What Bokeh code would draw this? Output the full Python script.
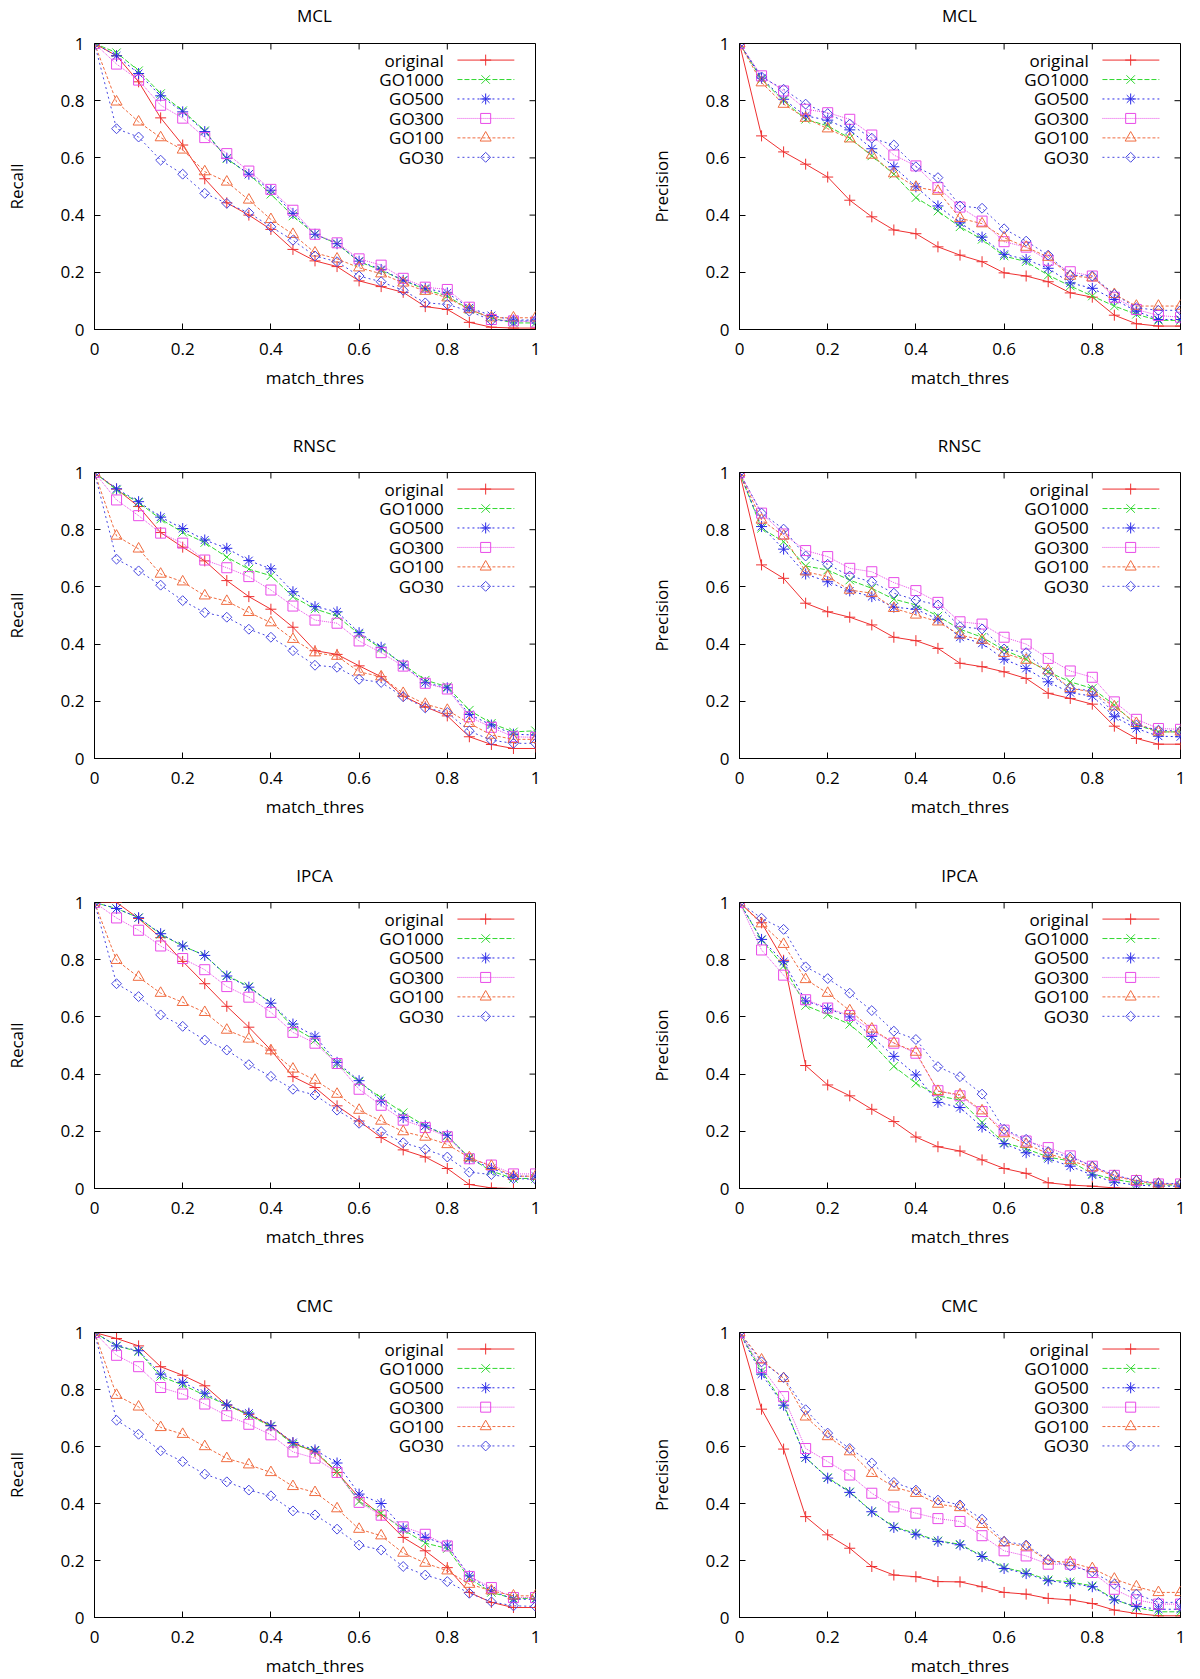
from bokeh.plotting import figure
from bokeh.layouts import column, row
from bokeh.models import Range1d, FixedTicker, CustomJSTickFormatter, Div
from bokeh.core.properties import value
from bokeh.embed import file_html
from bokeh.resources import INLINE

# ---------------- data ----------------
match_thres = [0.0, 0.05, 0.10, 0.15, 0.20, 0.25, 0.30, 0.35, 0.40, 0.45, 0.50,
               0.55, 0.60, 0.65, 0.70, 0.75, 0.80, 0.85, 0.90, 0.95, 1.0]
series_names = ["original", "GO1000", "GO500", "GO300", "GO100", "GO30"]
axis_ticks = [0, 0.2, 0.4, 0.6, 0.8, 1]

mcl_recall = {
    "original": [1, .957, .866, .74, .645, .527, .443, .40, .35, .28, .24, .22, .17, .15, .13, .08, .07, .025, .008, .005, .005],
    "GO1000": [1, .968, .905, .825, .765, .695, .597, .543, .473, .397, .333, .30, .237, .207, .172, .14, .117, .07, .04, .023, .023],
    "GO500": [1, .957, .895, .817, .761, .692, .599, .543, .487, .406, .333, .30, .239, .21, .172, .144, .128, .076, .049, .033, .033],
    "GO300": [1, .928, .872, .784, .739, .671, .615, .554, .49, .417, .333, .303, .247, .225, .179, .148, .14, .078, .035, .03, .026],
    "GO100": [1, .796, .726, .671, .628, .552, .516, .453, .385, .333, .268, .247, .216, .195, .163, .134, .111, .07, .041, .041, .041],
    "GO30": [1, .702, .673, .592, .543, .476, .441, .408, .359, .312, .257, .237, .187, .167, .137, .093, .088, .064, .032, .03, .03],
}
mcl_precision = {
    "original": [1, .677, .621, .578, .533, .452, .394, .348, .335, .289, .26, .237, .198, .187, .167, .128, .113, .05, .02, .012, .012],
    "GO1000": [1, .875, .80, .735, .712, .669, .607, .543, .461, .414, .359, .315, .257, .237, .19, .152, .117, .082, .053, .032, .032],
    "GO500": [1, .879, .805, .747, .732, .698, .632, .569, .499, .432, .373, .323, .263, .245, .214, .163, .144, .105, .064, .035, .035],
    "GO300": [1, .887, .834, .77, .758, .735, .68, .61, .572, .496, .428, .379, .307, .288, .242, .202, .187, .113, .07, .049, .043],
    "GO100": [1, .863, .788, .739, .702, .667, .61, .545, .498, .484, .389, .37, .321, .288, .253, .187, .181, .123, .082, .082, .082],
    "GO30": [1, .883, .84, .788, .755, .718, .669, .645, .569, .531, .432, .424, .352, .309, .26, .19, .187, .123, .076, .067, .067],
}
rnsc_recall = {
    "original": [1, .942, .881, .79, .739, .691, .622, .566, .522, .459, .377, .364, .324, .286, .218, .181, .149, .076, .049, .035, .035],
    "GO1000": [1, .939, .895, .837, .791, .755, .704, .662, .639, .566, .523, .498, .435, .385, .329, .274, .251, .169, .123, .093, .097],
    "GO500": [1, .943, .898, .844, .804, .764, .735, .692, .663, .583, .531, .513, .44, .389, .327, .265, .247, .154, .117, .085, .082],
    "GO300": [1, .904, .849, .788, .753, .694, .667, .636, .589, .533, .484, .473, .411, .37, .323, .263, .243, .146, .109, .076, .074],
    "GO100": [1, .778, .733, .645, .618, .569, .55, .511, .475, .417, .37, .358, .303, .286, .228, .19, .169, .123, .082, .067, .067],
    "GO30": [1, .697, .656, .606, .552, .51, .494, .452, .424, .377, .326, .319, .277, .266, .216, .177, .161, .096, .064, .053, .053],
}
rnsc_precision = {
    "original": [1, .677, .63, .543, .513, .494, .467, .424, .412, .385, .333, .321, .303, .28, .228, .21, .19, .113, .07, .05, .05],
    "GO1000": [1, .805, .758, .673, .659, .624, .595, .557, .537, .498, .452, .424, .379, .347, .303, .268, .245, .187, .117, .093, .093],
    "GO500": [1, .811, .732, .645, .618, .586, .566, .529, .522, .487, .424, .403, .347, .315, .268, .23, .218, .146, .105, .078, .076],
    "GO300": [1, .858, .785, .727, .706, .665, .653, .615, .587, .546, .478, .47, .424, .40, .35, .306, .284, .198, .137, .105, .102],
    "GO100": [1, .834, .778, .653, .636, .589, .578, .525, .502, .478, .432, .414, .368, .344, .307, .245, .233, .181, .123, .093, .093],
    "GO30": [1, .858, .802, .708, .679, .638, .618, .578, .554, .537, .461, .453, .383, .37, .30, .245, .237, .158, .117, .099, .096],
}
ipca_recall = {
    "original": [1, 1.0, .944, .877, .794, .716, .637, .564, .484, .391, .353, .289, .236, .178, .135, .11, .07, .014, .002, 0, 0],
    "GO1000": [1, .979, .947, .889, .848, .815, .745, .706, .648, .564, .519, .435, .373, .316, .265, .219, .184, .108, .061, .035, .035],
    "GO500": [1, .979, .947, .891, .848, .815, .743, .704, .648, .575, .532, .441, .377, .306, .248, .219, .186, .104, .07, .043, .043],
    "GO300": [1, .946, .903, .848, .804, .765, .706, .669, .616, .546, .508, .437, .347, .291, .239, .213, .181, .104, .082, .051, .051],
    "GO100": [1, .798, .739, .683, .651, .616, .554, .523, .482, .418, .379, .33, .274, .236, .199, .18, .154, .108, .078, .043, .043],
    "GO30": [1, .716, .671, .607, .567, .519, .484, .433, .392, .347, .327, .274, .228, .199, .16, .137, .11, .057, .049, .035, .032],
}
ipca_precision = {
    "original": [1, .929, .798, .43, .362, .324, .277, .234, .18, .146, .131, .10, .07, .053, .02, .012, .008, .002, 0, 0, 0],
    "GO1000": [1, .869, .778, .64, .608, .574, .508, .427, .368, .324, .309, .231, .16, .139, .11, .096, .051, .032, .019, .012, .012],
    "GO500": [1, .871, .793, .656, .629, .60, .532, .462, .397, .301, .283, .215, .157, .125, .104, .078, .047, .022, .012, .008, .008],
    "GO300": [1, .834, .746, .66, .631, .605, .553, .508, .473, .342, .324, .269, .204, .166, .143, .114, .078, .046, .028, .016, .016],
    "GO100": [1, .926, .854, .731, .683, .622, .558, .509, .477, .34, .328, .272, .192, .155, .122, .098, .073, .043, .026, .016, .014],
    "GO30": [1, .945, .906, .775, .734, .683, .622, .55, .521, .426, .391, .33, .207, .172, .129, .11, .078, .047, .028, .019, .016],
}
cmc_recall = {
    "original": [1, .979, .953, .88, .85, .813, .745, .713, .673, .612, .581, .509, .421, .359, .281, .234, .175, .088, .053, .035, .035],
    "GO1000": [1, .953, .933, .846, .816, .78, .746, .71, .67, .608, .585, .511, .407, .366, .308, .261, .242, .137, .088, .067, .067],
    "GO500": [1, .953, .936, .854, .825, .787, .746, .717, .673, .614, .588, .542, .433, .40, .313, .281, .254, .146, .094, .064, .064],
    "GO300": [1, .92, .88, .807, .784, .749, .708, .678, .641, .581, .559, .509, .404, .359, .318, .292, .251, .144, .105, .07, .07],
    "GO100": [1, .78, .739, .667, .643, .60, .558, .536, .509, .46, .439, .382, .31, .287, .226, .191, .164, .117, .094, .076, .076],
    "GO30": [1, .692, .643, .585, .547, .503, .476, .447, .427, .374, .36, .31, .254, .237, .179, .149, .126, .085, .055, .041, .039],
}
cmc_precision = {
    "original": [1, .731, .591, .354, .29, .243, .179, .149, .143, .126, .125, .108, .088, .082, .067, .062, .049, .026, .014, .006, .006],
    "GO1000": [1, .865, .749, .561, .491, .441, .372, .318, .295, .269, .257, .216, .175, .158, .132, .125, .111, .064, .035, .02, .02],
    "GO500": [1, .854, .745, .561, .489, .439, .371, .316, .292, .267, .255, .214, .172, .154, .129, .12, .108, .062, .039, .029, .029],
    "GO300": [1, .877, .775, .593, .547, .50, .436, .388, .366, .347, .337, .287, .234, .216, .187, .187, .158, .099, .062, .047, .047],
    "GO100": [1, .904, .839, .704, .635, .582, .506, .458, .436, .398, .386, .327, .263, .248, .199, .193, .172, .135, .108, .088, .088],
    "GO30": [1, .897, .842, .729, .647, .593, .542, .474, .447, .412, .395, .345, .267, .254, .202, .181, .16, .117, .082, .053, .053],
}

panels = [
    ("MCL", "Recall", mcl_recall), ("MCL", "Precision", mcl_precision),
    ("RNSC", "Recall", rnsc_recall), ("RNSC", "Precision", rnsc_precision),
    ("IPCA", "Recall", ipca_recall), ("IPCA", "Precision", ipca_precision),
    ("CMC", "Recall", cmc_recall), ("CMC", "Precision", cmc_precision),
]

# ---------------- styles ----------------
FONT = "Open Sans"
FS = "17px"
styles = {
    "original": dict(color="#ee3030", dash="solid", marker="cross", size=11, angle=0.0),
    "GO1000": dict(color="#30d830", dash="5 2", marker="x", size=12, angle=0.0),
    "GO500": dict(color="#2a2ae8", dash="2 3", marker="asterisk", size=11, angle=0.0),
    "GO300": dict(color="#e84ae8", dash="1 1", marker="square", size=10, angle=0.0),
    "GO100": dict(color="#f06c40", dash="3 2", marker="triangle", size=11, angle=0.0),
    "GO30": dict(color="#4848e0", dash="2 3", marker="square", size=7, angle=0.7854),
}

# legend placement (fractions of the frame)
LEG_TEXT_X = 0.792
LEG_LINE_X0 = 0.823
LEG_LINE_X1 = 0.952
LEG_MARK_X = 0.887
LEG_Y0 = 0.942
LEG_DY = 0.068

fmt = CustomJSTickFormatter(code="return tick.toString();")

FIG_W = 600
FRAME_W = 441
FRAME_H = 286
TICK_LEN = 6
TITLE_H = 31            # height of the title strip above each panel
heights = [430, 430, 430, 389]
tops = [43, 42, 42, 42]


def make_panel(idx, title, ylabel, data):
    r, col = divmod(idx, 2)
    left = 94 if col == 0 else 139
    right = FIG_W - left - FRAME_W
    h = heights[r] - TITLE_H
    top = tops[r] - TITLE_H
    bottom = h - top - FRAME_H
    p = figure(width=FIG_W, height=h, x_range=Range1d(0, 1), y_range=Range1d(0, 1),
               output_backend="svg", toolbar_location=None,
               min_border_left=left, min_border_right=right,
               min_border_top=top, min_border_bottom=bottom,
               x_axis_label="match_thres", y_axis_label=ylabel)
    p.background_fill_color = "white"
    p.border_fill_color = "white"
    p.outline_line_color = "black"
    p.outline_line_width = 1
    p.grid.visible = False

    for ax in (p.xaxis[0], p.yaxis[0]):
        ax.ticker = FixedTicker(ticks=axis_ticks)
        ax.formatter = fmt
        ax.major_tick_in = TICK_LEN
        ax.major_tick_out = 0
        ax.minor_tick_line_color = None
        ax.major_tick_line_color = "black"
        ax.axis_line_color = "black"
        ax.major_label_text_font = FONT
        ax.major_label_text_font_size = FS
        ax.major_label_text_color = "black"
        ax.axis_label_text_font = FONT
        ax.axis_label_text_font_size = FS
        ax.axis_label_text_font_style = "normal"
        ax.axis_label_text_color = "black"
    p.yaxis[0].major_label_standoff = 10
    p.yaxis[0].axis_label_standoff = 30
    p.xaxis[0].major_label_standoff = 13
    p.xaxis[0].axis_label_standoff = 8

    # mirrored inward ticks on the top and right borders (gnuplot style)
    dx = TICK_LEN / FRAME_W
    dy = TICK_LEN / FRAME_H
    n = len(axis_ticks)
    p.segment(x0=axis_ticks, y0=[1.0] * n, x1=axis_ticks, y1=[1.0 - dy] * n,
              line_color="black", line_width=1)
    p.segment(x0=[1.0] * n, y0=axis_ticks, x1=[1.0 - dx] * n, y1=axis_ticks,
              line_color="black", line_width=1)

    for i, name in enumerate(series_names):
        st = styles[name]
        ys = data[name]
        p.line(match_thres, ys, line_color=st["color"], line_width=1, line_dash=st["dash"])
        p.scatter(match_thres, ys, marker=st["marker"], size=st["size"], angle=st["angle"],
                  line_color=st["color"], fill_color=None, line_width=1)
        # legend entry (gnuplot style: text on the left, sample on the right)
        ly = LEG_Y0 - i * LEG_DY
        p.text(x=[LEG_TEXT_X], y=[ly], text=[name], text_align="right", text_baseline="middle",
               text_font=value(FONT), text_font_size=FS, text_color="black")
        p.segment(x0=[LEG_LINE_X0], y0=[ly], x1=[LEG_LINE_X1], y1=[ly],
                  line_color=st["color"], line_width=1, line_dash=st["dash"])
        p.scatter([LEG_MARK_X], [ly], marker=st["marker"], size=st["size"], angle=st["angle"],
                  line_color=st["color"], fill_color=None, line_width=1)

    head = Div(text=title, width=FRAME_W, height=TITLE_H, margin=(0, right, 0, left),
               styles={"font-family": FONT, "font-size": FS, "line-height": f"{TITLE_H}px",
                       "text-align": "center", "color": "black", "overflow": "hidden"})
    return column(head, p, spacing=0)


cells = [make_panel(i, t, yl, d) for i, (t, yl, d) in enumerate(panels)]
layout = column(*[row(cells[2 * k], cells[2 * k + 1], spacing=0) for k in range(4)], spacing=0)

open("out.html", "w").write(file_html(layout, INLINE))
